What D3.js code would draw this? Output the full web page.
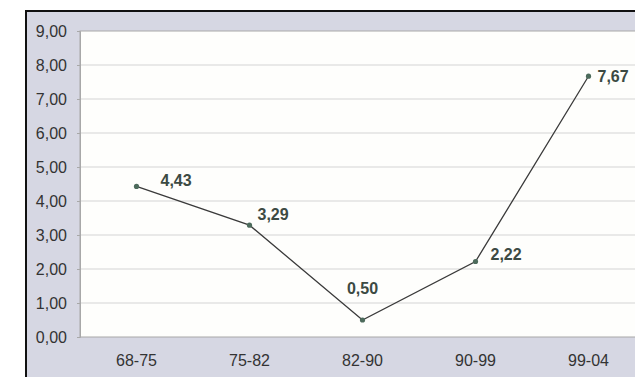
<!DOCTYPE html>
<html>
<head>
<meta charset="utf-8">
<script src="https://cdn.jsdelivr.net/npm/d3@7"></script>
<style>
  body { margin: 0; background: #ffffff; }
  svg { display: block; }
</style>
</head>
<body>
<div id="chart"></div>
<script>
var periods = ["68-75", "75-82", "82-90", "90-99", "99-04"];
var values = [4.43, 3.29, 0.50, 2.22, 7.67];
var yTicks = [0, 1, 2, 3, 4, 5, 6, 7, 8, 9];

// where each data label sits relative to its point (like excel placed them)
var labelOffsets = [[24, -6], [8, -11], [0, -32], [15, -7], [9, 0]];

var width = 635;
var height = 377;
var plotLeft = 80, plotTop = 31, plotBottom = 337;
var step = 113;

var fmt = function (v) { return v.toFixed(2).replace(".", ","); };

var svg = d3.select("#chart")
    .append("svg")
    .attr("width", width)
    .attr("height", height);

// outer frame
svg.append("rect")
    .attr("x", 26).attr("y", 11)
    .attr("width", width).attr("height", height)
    .attr("fill", "#d6d7e3")
    .attr("stroke", "#111")
    .attr("stroke-width", 2);

var x = d3.scaleBand()
    .domain(periods)
    .range([plotLeft, plotLeft + step * periods.length]);

var y = d3.scaleLinear()
    .domain([0, 9])
    .range([plotBottom, plotTop]);

// plot area
svg.append("rect")
    .attr("x", plotLeft).attr("y", plotTop)
    .attr("width", width - plotLeft + 10)
    .attr("height", plotBottom - plotTop)
    .attr("fill", "#fefefc")
    .attr("stroke", "#a8a8a8")
    .attr("stroke-width", 1);

// grid lines
svg.append("g")
    .selectAll("line")
    .data(yTicks.slice(1, -1))
    .enter()
    .append("line")
    .attr("x1", plotLeft).attr("x2", width)
    .attr("y1", d => y(d)).attr("y2", d => y(d))
    .attr("stroke", "#d4d4d4")
    .attr("stroke-width", 1);

// y axis
var yAxis = svg.append("g")
    .attr("transform", "translate(" + plotLeft + ",0)")
    .call(d3.axisLeft(y).tickValues(yTicks).tickFormat(fmt).tickSize(3).tickPadding(10));
yAxis.select(".domain").attr("stroke", "#a8a8a8");
yAxis.selectAll(".tick line").attr("stroke", "#a8a8a8");
yAxis.selectAll("text")
    .attr("fill", "#333")
    .style("font-family", "Liberation Sans, Arial, sans-serif")
    .style("font-size", "16px");

// x axis
var xAxis = svg.append("g")
    .attr("transform", "translate(0," + plotBottom + ")")
    .call(d3.axisBottom(x).tickSize(0).tickPadding(18));
xAxis.select(".domain").remove();
xAxis.selectAll("text")
    .attr("fill", "#333")
    .style("font-family", "Liberation Sans, Arial, sans-serif")
    .style("font-size", "16px");

var pts = periods.map((p, i) => ({ period: p, value: values[i], off: labelOffsets[i] }));

var line = d3.line()
    .x(d => x(d.period) + x.bandwidth() / 2)
    .y(d => y(d.value));

svg.append("path")
    .datum(pts)
    .attr("d", line)
    .attr("fill", "none")
    .attr("stroke", "#3a3a3a")
    .attr("stroke-width", 1.3);

svg.selectAll("circle.pt")
    .data(pts)
    .enter()
    .append("circle")
    .attr("class", "pt")
    .attr("cx", d => x(d.period) + x.bandwidth() / 2)
    .attr("cy", d => y(d.value))
    .attr("r", 2.6)
    .attr("fill", "#4d6b5c");

svg.selectAll("text.lbl")
    .data(pts)
    .enter()
    .append("text")
    .attr("class", "lbl")
    .attr("x", d => x(d.period) + x.bandwidth() / 2 + d.off[0])
    .attr("y", d => y(d.value) + d.off[1])
    .attr("dy", "0.35em")
    .attr("text-anchor", d => d.off[0] === 0 ? "middle" : "start")
    .attr("fill", "#3c4a43")
    .style("font-family", "Liberation Sans, Arial, sans-serif")
    .style("font-size", "16px")
    .style("font-weight", "bold")
    .text(d => fmt(d.value));
</script>
</body>
</html>
